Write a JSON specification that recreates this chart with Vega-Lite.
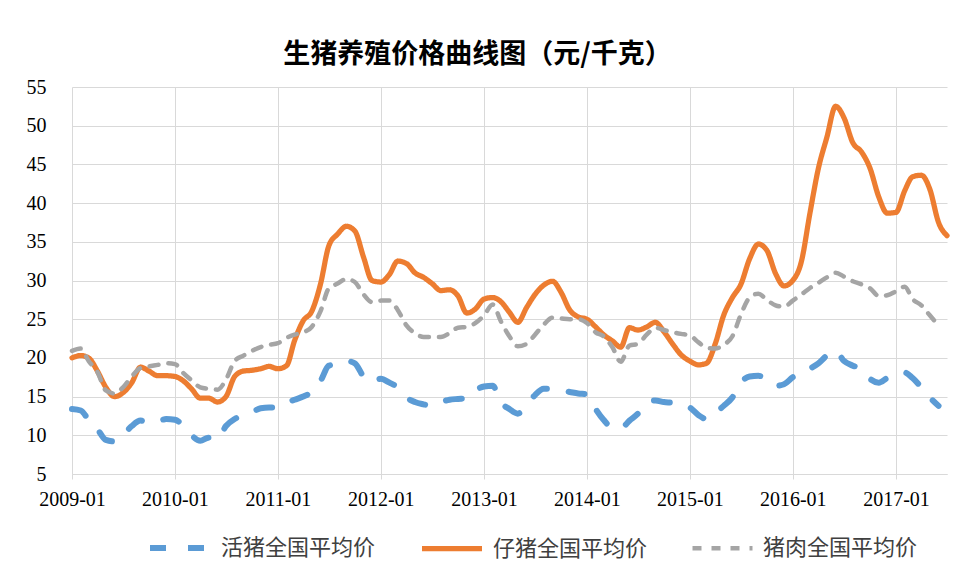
{
  "$schema": "https://vega.github.io/schema/vega-lite/v6.json",
  "width": 875,
  "height": 387,
  "autosize": {"type": "none"},
  "padding": {"left": 72, "top": 87, "right": 11, "bottom": 93},
  "background": "white",
  "title": {
    "text": "生猪养殖价格曲线图（元/千克）",
    "font": "Noto Sans CJK SC",
    "fontSize": 27,
    "fontWeight": "bold",
    "color": "#000000",
    "anchor": "middle",
    "dx": -32,
    "offset": 8
  },
  "config": {
    "view": {"stroke": null},
    "axis": {
      "gridColor": "#d9d9d9",
      "gridWidth": 1,
      "domainColor": "#d9d9d9",
      "tickColor": "#d9d9d9",
      "labelFont": "Liberation Serif",
      "labelFontSize": 20,
      "labelColor": "#000000",
      "title": null
    }
  },
  "data": {
    "values": [
      {"d": "2009-01-01", "活猪全国平均价": 13.4, "仔猪全国平均价": 20.0, "猪肉全国平均价": 20.9},
      {"d": "2009-02-01", "活猪全国平均价": 13.2, "仔猪全国平均价": 20.3, "猪肉全国平均价": 21.2},
      {"d": "2009-03-01", "活猪全国平均价": 12.0, "仔猪全国平均价": 20.0, "猪肉全国平均价": 19.6},
      {"d": "2009-04-01", "活猪全国平均价": 10.8, "仔猪全国平均价": 18.3, "猪肉全国平均价": 18.2},
      {"d": "2009-05-01", "活猪全国平均价": 9.4, "仔猪全国平均价": 16.2, "猪肉全国平均价": 15.8},
      {"d": "2009-06-01", "活猪全国平均价": 9.2, "仔猪全国平均价": 15.0, "猪肉全国平均价": 15.4},
      {"d": "2009-07-01", "活猪全国平均价": 10.0, "仔猪全国平均价": 15.5, "猪肉全国平均价": 16.2},
      {"d": "2009-08-01", "活猪全国平均价": 11.2, "仔猪全国平均价": 16.8, "猪肉全国平均价": 17.6},
      {"d": "2009-09-01", "活猪全国平均价": 11.9, "仔猪全国平均价": 18.8, "猪肉全国平均价": 18.7},
      {"d": "2009-10-01", "活猪全国平均价": 11.6, "仔猪全国平均价": 18.3, "猪肉全国平均价": 18.9},
      {"d": "2009-11-01", "活猪全国平均价": 11.8, "仔猪全国平均价": 17.7, "猪肉全国平均价": 19.1},
      {"d": "2009-12-01", "活猪全国平均价": 12.1, "仔猪全国平均价": 17.7, "猪肉全国平均价": 19.3},
      {"d": "2010-01-01", "活猪全国平均价": 12.0, "仔猪全国平均价": 17.6, "猪肉全国平均价": 19.2},
      {"d": "2010-02-01", "活猪全国平均价": 11.2, "仔猪全国平均价": 17.0, "猪肉全国平均价": 18.0},
      {"d": "2010-03-01", "活猪全国平均价": 10.0, "仔猪全国平均价": 16.0, "猪肉全国平均价": 17.1},
      {"d": "2010-04-01", "活猪全国平均价": 9.3, "仔猪全国平均价": 14.8, "猪肉全国平均价": 16.2},
      {"d": "2010-05-01", "活猪全国平均价": 9.7, "仔猪全国平均价": 14.8, "猪肉全国平均价": 16.0},
      {"d": "2010-06-01", "活猪全国平均价": 9.5, "仔猪全国平均价": 14.3, "猪肉全国平均价": 15.9},
      {"d": "2010-07-01", "活猪全国平均价": 11.2, "仔猪全国平均价": 15.0, "猪肉全国平均价": 17.2},
      {"d": "2010-08-01", "活猪全国平均价": 12.1, "仔猪全国平均价": 17.6, "猪肉全国平均价": 19.6},
      {"d": "2010-09-01", "活猪全国平均价": 12.6, "仔猪全国平均价": 18.3, "猪肉全国平均价": 20.3},
      {"d": "2010-10-01", "活猪全国平均价": 13.0, "仔猪全国平均价": 18.4, "猪肉全国平均价": 20.9},
      {"d": "2010-11-01", "活猪全国平均价": 13.5, "仔猪全国平均价": 18.6, "猪肉全国平均价": 21.4},
      {"d": "2010-12-01", "活猪全国平均价": 13.6, "仔猪全国平均价": 18.9, "猪肉全国平均价": 21.7},
      {"d": "2011-01-01", "活猪全国平均价": 13.6, "仔猪全国平均价": 18.6, "猪肉全国平均价": 21.9},
      {"d": "2011-02-01", "活猪全国平均价": 14.2, "仔猪全国平均价": 19.0, "猪肉全国平均价": 22.6},
      {"d": "2011-03-01", "活猪全国平均价": 14.6, "仔猪全国平均价": 22.2, "猪肉全国平均价": 23.0},
      {"d": "2011-04-01", "活猪全国平均价": 15.0, "仔猪全国平均价": 24.8, "猪肉全国平均价": 23.3},
      {"d": "2011-05-01", "活猪全国平均价": 15.6, "仔猪全国平均价": 26.0, "猪肉全国平均价": 24.0},
      {"d": "2011-06-01", "活猪全国平均价": 17.0, "仔猪全国平均价": 29.5, "猪肉全国平均价": 26.0},
      {"d": "2011-07-01", "活猪全国平均价": 19.0, "仔猪全国平均价": 34.5, "猪肉全国平均价": 29.0},
      {"d": "2011-08-01", "活猪全国平均价": 19.2, "仔猪全国平均价": 36.0, "猪肉全国平均价": 29.6},
      {"d": "2011-09-01", "活猪全国平均价": 19.6, "仔猪全国平均价": 37.0, "猪肉全国平均价": 30.2},
      {"d": "2011-10-01", "活猪全国平均价": 19.3, "仔猪全国平均价": 36.4, "猪肉全国平均价": 29.8},
      {"d": "2011-11-01", "活猪全国平均价": 17.6, "仔猪全国平均价": 33.0, "猪肉全国平均价": 28.2},
      {"d": "2011-12-01", "活猪全国平均价": 16.9, "仔猪全国平均价": 30.0, "猪肉全国平均价": 27.2},
      {"d": "2012-01-01", "活猪全国平均价": 17.3, "仔猪全国平均价": 29.8, "猪肉全国平均价": 27.4},
      {"d": "2012-02-01", "活猪全国平均价": 16.8, "仔猪全国平均价": 30.8, "猪肉全国平均价": 27.4},
      {"d": "2012-03-01", "活猪全国平均价": 16.2, "仔猪全国平均价": 32.5, "猪肉全国平均价": 26.2},
      {"d": "2012-04-01", "活猪全国平均价": 14.9, "仔猪全国平均价": 32.2, "猪肉全国平均价": 24.2},
      {"d": "2012-05-01", "活猪全国平均价": 14.3, "仔猪全国平均价": 31.0, "猪肉全国平均价": 23.2},
      {"d": "2012-06-01", "活猪全国平均价": 14.0, "仔猪全国平均价": 30.4, "猪肉全国平均价": 22.7},
      {"d": "2012-07-01", "活猪全国平均价": 13.8, "仔猪全国平均价": 29.6, "猪肉全国平均价": 22.7},
      {"d": "2012-08-01", "活猪全国平均价": 14.3, "仔猪全国平均价": 28.7, "猪肉全国平均价": 22.7},
      {"d": "2012-09-01", "活猪全国平均价": 14.6, "仔猪全国平均价": 28.8, "猪肉全国平均价": 23.2},
      {"d": "2012-10-01", "活猪全国平均价": 14.7, "仔猪全国平均价": 28.0, "猪肉全国平均价": 23.9},
      {"d": "2012-11-01", "活猪全国平均价": 14.8, "仔猪全国平均价": 25.8, "猪肉全国平均价": 24.0},
      {"d": "2012-12-01", "活猪全国平均价": 15.8, "仔猪全国平均价": 26.3, "猪肉全国平均价": 24.5},
      {"d": "2013-01-01", "活猪全国平均价": 16.3, "仔猪全国平均价": 27.6, "猪肉全国平均价": 25.5},
      {"d": "2013-02-01", "活猪全国平均价": 16.4, "仔猪全国平均价": 27.8, "猪肉全国平均价": 26.9},
      {"d": "2013-03-01", "活猪全国平均价": 14.3, "仔猪全国平均价": 27.3, "猪肉全国平均价": 24.8},
      {"d": "2013-04-01", "活猪全国平均价": 13.4, "仔猪全国平均价": 25.9, "猪肉全国平均价": 22.8},
      {"d": "2013-05-01", "活猪全国平均价": 12.8, "仔猪全国平均价": 24.6, "猪肉全国平均价": 21.5},
      {"d": "2013-06-01", "活猪全国平均价": 13.9, "仔猪全国平均价": 26.5, "猪肉全国平均价": 21.8},
      {"d": "2013-07-01", "活猪全国平均价": 15.2, "仔猪全国平均价": 28.2, "猪肉全国平均价": 23.0},
      {"d": "2013-08-01", "活猪全国平均价": 16.0, "仔猪全国平均价": 29.4, "猪肉全国平均价": 24.3},
      {"d": "2013-09-01", "活猪全国平均价": 16.0, "仔猪全国平均价": 29.9, "猪肉全国平均价": 25.2},
      {"d": "2013-10-01", "活猪全国平均价": 15.8, "仔猪全国平均价": 28.5, "猪肉全国平均价": 25.1},
      {"d": "2013-11-01", "活猪全国平均价": 15.6, "仔猪全国平均价": 26.2, "猪肉全国平均价": 25.0},
      {"d": "2013-12-01", "活猪全国平均价": 15.4, "仔猪全国平均价": 25.3, "猪肉全国平均价": 25.0},
      {"d": "2014-01-01", "活猪全国平均价": 15.3, "仔猪全国平均价": 25.0, "猪肉全国平均价": 24.5},
      {"d": "2014-02-01", "活猪全国平均价": 13.4, "仔猪全国平均价": 24.0, "猪肉全国平均价": 23.3},
      {"d": "2014-03-01", "活猪全国平均价": 12.0, "仔猪全国平均价": 23.0, "猪肉全国平均价": 22.8},
      {"d": "2014-04-01", "活猪全国平均价": 11.0, "仔猪全国平均价": 22.2, "猪肉全国平均价": 21.4},
      {"d": "2014-05-01", "活猪全国平均价": 10.9, "仔猪全国平均价": 21.4, "猪肉全国平均价": 19.5},
      {"d": "2014-06-01", "活猪全国平均价": 11.9, "仔猪全国平均价": 23.9, "猪肉全国平均价": 21.6},
      {"d": "2014-07-01", "活猪全国平均价": 12.8, "仔猪全国平均价": 23.6, "猪肉全国平均价": 21.8},
      {"d": "2014-08-01", "活猪全国平均价": 14.2, "仔猪全国平均价": 24.0, "猪肉全国平均价": 23.0},
      {"d": "2014-09-01", "活猪全国平均价": 14.5, "仔猪全国平均价": 24.6, "猪肉全国平均价": 23.9},
      {"d": "2014-10-01", "活猪全国平均价": 14.3, "仔猪全国平均价": 23.4, "猪肉全国平均价": 23.6},
      {"d": "2014-11-01", "活猪全国平均价": 14.2, "仔猪全国平均价": 21.8, "猪肉全国平均价": 23.3},
      {"d": "2014-12-01", "活猪全国平均价": 14.0, "仔猪全国平均价": 20.4, "猪肉全国平均价": 23.1},
      {"d": "2015-01-01", "活猪全国平均价": 13.6, "仔猪全国平均价": 19.6, "猪肉全国平均价": 22.9},
      {"d": "2015-02-01", "活猪全国平均价": 12.6, "仔猪全国平均价": 19.1, "猪肉全国平均价": 22.0},
      {"d": "2015-03-01", "活猪全国平均价": 12.1, "仔猪全国平均价": 19.3, "猪肉全国平均价": 21.3},
      {"d": "2015-04-01", "活猪全国平均价": 12.9, "仔猪全国平均价": 21.8, "猪肉全国平均价": 21.2},
      {"d": "2015-05-01", "活猪全国平均价": 13.8, "仔猪全国平均价": 25.5, "猪肉全国平均价": 21.7},
      {"d": "2015-06-01", "活猪全国平均价": 14.9, "仔猪全国平均价": 27.8, "猪肉全国平均价": 22.8},
      {"d": "2015-07-01", "活猪全国平均价": 16.8, "仔猪全国平均价": 29.5, "猪肉全国平均价": 25.6},
      {"d": "2015-08-01", "活猪全国平均价": 17.6, "仔猪全国平均价": 32.8, "猪肉全国平均价": 27.8},
      {"d": "2015-09-01", "活猪全国平均价": 17.7, "仔猪全国平均价": 34.7, "猪肉全国平均价": 28.3},
      {"d": "2015-10-01", "活猪全国平均价": 17.2, "仔猪全国平均价": 33.9, "猪肉全国平均价": 27.5},
      {"d": "2015-11-01", "活猪全国平均价": 16.4, "仔猪全国平均价": 30.9, "猪肉全国平均价": 26.8},
      {"d": "2015-12-01", "活猪全国平均价": 16.6, "仔猪全国平均价": 29.3, "猪肉全国平均价": 26.6},
      {"d": "2016-01-01", "活猪全国平均价": 17.5, "仔猪全国平均价": 30.0, "猪肉全国平均价": 27.4},
      {"d": "2016-02-01", "活猪全国平均价": 18.1, "仔猪全国平均价": 32.5, "猪肉全国平均价": 28.2},
      {"d": "2016-03-01", "活猪全国平均价": 18.6, "仔猪全国平均价": 38.5, "猪肉全国平均价": 29.0},
      {"d": "2016-04-01", "活猪全国平均价": 19.3, "仔猪全国平均价": 44.5, "猪肉全国平均价": 29.7},
      {"d": "2016-05-01", "活猪全国平均价": 20.3, "仔猪全国平均价": 48.5, "猪肉全国平均价": 30.4},
      {"d": "2016-06-01", "活猪全国平均价": 20.9, "仔猪全国平均价": 52.5, "猪肉全国平均价": 31.0},
      {"d": "2016-07-01", "活猪全国平均价": 19.6, "仔猪全国平均价": 51.0, "猪肉全国平均价": 30.5},
      {"d": "2016-08-01", "活猪全国平均价": 19.0, "仔猪全国平均价": 47.8, "猪肉全国平均价": 29.9},
      {"d": "2016-09-01", "活猪全国平均价": 18.6, "仔猪全国平均价": 46.6, "猪肉全国平均价": 29.5},
      {"d": "2016-10-01", "活猪全国平均价": 17.3, "仔猪全国平均价": 44.5, "猪肉全国平均价": 29.0},
      {"d": "2016-11-01", "活猪全国平均价": 16.8, "仔猪全国平均价": 40.8, "猪肉全国平均价": 28.0},
      {"d": "2016-12-01", "活猪全国平均价": 17.4, "仔猪全国平均价": 38.7, "猪肉全国平均价": 28.1},
      {"d": "2017-01-01", "活猪全国平均价": 17.8, "仔猪全国平均价": 38.8, "猪肉全国平均价": 28.6},
      {"d": "2017-02-01", "活猪全国平均价": 18.1, "仔猪全国平均价": 41.6, "猪肉全国平均价": 29.2},
      {"d": "2017-03-01", "活猪全国平均价": 17.4, "仔猪全国平均价": 43.4, "猪肉全国平均价": 27.6},
      {"d": "2017-04-01", "活猪全国平均价": 16.2, "仔猪全国平均价": 43.6, "猪肉全国平均价": 26.8},
      {"d": "2017-05-01", "活猪全国平均价": 14.9, "仔猪全国平均价": 41.8, "猪肉全国平均价": 25.5},
      {"d": "2017-06-01", "活猪全国平均价": 13.8, "仔猪全国平均价": 37.5, "猪肉全国平均价": 24.2},
      {"d": "2017-07-01", "活猪全国平均价": null, "仔猪全国平均价": 35.8, "猪肉全国平均价": null}
    ]
  },
  "transform": [
    {"fold": ["活猪全国平均价", "仔猪全国平均价", "猪肉全国平均价"], "as": ["series", "value"]}
  ],
  "mark": {"type": "line", "strokeCap": "round", "strokeJoin": "round", "interpolate": "monotone"},
  "encoding": {
    "x": {
      "field": "d",
      "type": "temporal",
      "scale": {"type": "utc", "domain": ["2009-01-01", "2017-07-01"]},
      "axis": {
        "values": ["2009-01-01", "2010-01-01", "2011-01-01", "2012-01-01", "2013-01-01", "2014-01-01", "2015-01-01", "2016-01-01", "2017-01-01"],
        "format": "%Y-%m",
        "grid": true,
        "tickSize": 5,
        "labelPadding": 10,
        "labelFlush": false,
        "labelOverlap": false
      }
    },
    "y": {
      "field": "value",
      "type": "quantitative",
      "scale": {"domain": [5, 55], "nice": false, "zero": false},
      "axis": {
        "values": [5, 10, 15, 20, 25, 30, 35, 40, 45, 50, 55],
        "grid": true,
        "ticks": false,
        "domain": false,
        "labelPadding": 26
      }
    },
    "color": {
      "field": "series",
      "type": "nominal",
      "scale": {
        "domain": ["活猪全国平均价", "仔猪全国平均价", "猪肉全国平均价"],
        "range": ["#5B9BD5", "#ED7D31", "#A5A5A5"]
      },
      "legend": {
        "title": null,
        "orient": "none",
        "legendX": 75,
        "legendY": 428,
        "direction": "horizontal",
        "symbolType": "stroke",
        "symbolSize": 3600,
        "symbolStrokeWidth": 6,
        "labelFont": "Noto Sans CJK SC",
        "labelFontSize": 22,
        "labelColor": "#404040",
        "labelOffset": 8,
        "columnPadding": 35,
        "labelLimit": 400
      }
    },
    "strokeDash": {
      "field": "series",
      "type": "nominal",
      "scale": {
        "domain": ["活猪全国平均价", "仔猪全国平均价", "猪肉全国平均价"],
        "range": [[16, 22], [1, 0], [9, 10]]
      },
      "legend": {
        "title": null,
        "orient": "none",
        "legendX": 75,
        "legendY": 428,
        "direction": "horizontal",
        "symbolType": "stroke",
        "symbolSize": 3600,
        "symbolStrokeWidth": 6,
        "labelFont": "Noto Sans CJK SC",
        "labelFontSize": 22,
        "labelColor": "#404040",
        "labelOffset": 8,
        "columnPadding": 35,
        "labelLimit": 400
      }
    },
    "strokeWidth": {
      "field": "series",
      "type": "nominal",
      "scale": {
        "domain": ["活猪全国平均价", "仔猪全国平均价", "猪肉全国平均价"],
        "range": [6, 4.5, 6]
      },
      "legend": null
    }
  }
}
